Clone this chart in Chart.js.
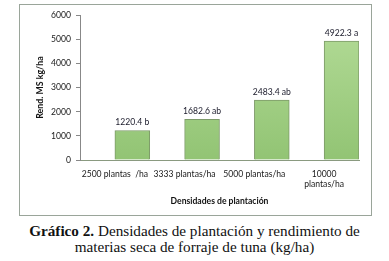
<!DOCTYPE html>
<html><head><meta charset="utf-8">
<script src="https://cdn.jsdelivr.net/npm/chart.js@4"></script>
<style>
body{margin:0;background:#fff;width:389px;height:261px;overflow:hidden;position:relative}
#frame{position:absolute;left:19px;top:4px;width:353px;height:212px;border:1px solid #9aa59a;box-sizing:border-box}
#wrap{position:absolute;left:20px;top:5px;width:349px;height:208px}
#cap{position:absolute;left:0;top:223px;width:389px;text-align:center;font-family:"Liberation Serif";font-size:15.2px;line-height:16px;color:#111}
</style></head><body>
<div id="frame"></div>
<div id="wrap"><canvas id="c"></canvas></div>
<div id="cap"><b>Gráfico 2.</b> Densidades de plantación y rendimiento de<br>materias seca de forraje de tuna (kg/ha)</div>
<script>
const categories = ["2500 plantas  /ha", "3333 plantas/ha", "5000 plantas/ha", ["10000", "plantas/ha"]];
const blankSeries = [null, null, null, null];
const yieldValues = [1220.4, 1682.6, 2483.4, 4922.3];
const letters = ["b", "ab", "ab", "a"];
const yTicks = [0, 1000, 2000, 3000, 4000, 5000, 6000];

const FONT = "Lato";
const labelPlugin = {
  id: 'vals',
  afterDatasetsDraw(chart) {
    const ctx = chart.ctx;
    const meta = chart.getDatasetMeta(1);
    ctx.save();
    ctx.font = "8.6px " + FONT;
    ctx.fillStyle = "#1a1a2a";
    ctx.textAlign = "center";
    ctx.textBaseline = "middle";
    meta.data.forEach((bar, i) => {
      ctx.fillText(yieldValues[i].toFixed(1) + " " + letters[i], bar.x, bar.y - 8);
    });
    ctx.restore();
  }
};

function barFill(context) {
  const chart = context.chart;
  const area = chart.chartArea;
  if (!area) return '#a5d38a';
  const g = chart.ctx.createLinearGradient(0, area.top, 0, area.bottom);
  g.addColorStop(0, '#b4dc98');
  g.addColorStop(1, '#92c474');
  return g;
}

new Chart(document.getElementById('c'), {
  type: 'bar',
  data: {
    labels: categories,
    datasets: [
      { data: blankSeries, backgroundColor: '#a8d58c' },
      { data: yieldValues, backgroundColor: barFill, borderColor: '#7d9a69', borderWidth: 1, borderSkipped: 'bottom' }
    ]
  },
  options: {
    responsive: true,
    maintainAspectRatio: false,
    animation: false,
    events: [],
    datasets: { bar: { barPercentage: 1, categoryPercentage: 1 } },
    layout: { padding: { left: 12, right: 10, top: 9, bottom: 6 } },
    plugins: { legend: { display: false }, tooltip: { enabled: false } },
    scales: {
      x: {
        afterFit(s) { s.height = 47; },
        grid: { display: false, drawTicks: false },
        border: { display: true, color: '#8a9a80' },
        ticks: { padding: 9, font: { family: FONT, size: 8.6 }, color: '#1a1a1a', maxRotation: 0, autoSkip: false },
        title: { display: true, text: 'Densidades de plantación', font: { family: FONT, size: 8.6, weight: 'bold' }, color: '#111', padding: { top: 0, bottom: 1 } }
      },
      y: {
        min: 0, max: 6000,
        afterFit(s) { s.width = 48; },
        afterBuildTicks(s) { s.ticks = yTicks.map(v => ({ value: v })); },
        grid: { drawOnChartArea: false, drawTicks: true, tickLength: 4, color: '#888' },
        border: { display: true, color: '#888' },
        ticks: { padding: 5, font: { family: FONT, size: 8.6 }, color: '#1a1a1a', callback: (v) => String(v) },
        title: { display: true, text: 'Rend. MS kg/ha', font: { family: FONT, size: 8.8, weight: 'bold' }, color: '#111', padding: { top: 3, bottom: 0 } }
      }
    }
  },
  plugins: [labelPlugin]
});
</script>
</body></html>
